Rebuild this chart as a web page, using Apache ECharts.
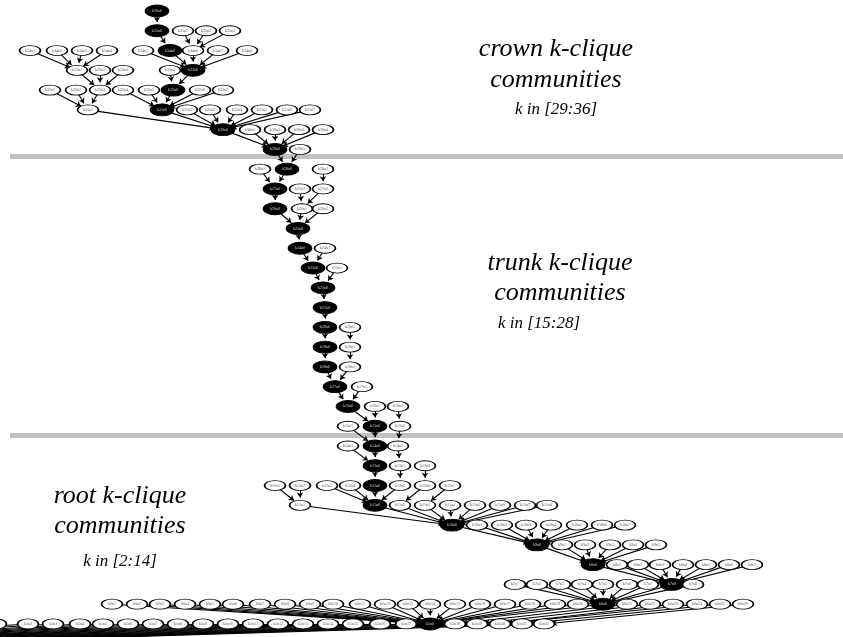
<!DOCTYPE html>
<html>
<head>
<meta charset="utf-8">
<script src="https://cdn.jsdelivr.net/npm/echarts@6/dist/echarts.min.js"></script>
<style>
html, body { margin: 0; padding: 0; background: #fff; }
#main { width: 843px; height: 637px; }
</style>
</head>
<body>
<div id="main"></div>
<script>
// clique size k of each level, from the crown down to the root
const levels = [36,35,34,33,32,31,30,29,28,27,26,25,24,23,22,21,20,19,18,17,16,15,14,13,12,11,10,9,8,7,6,5,3.5];

// horizontal place of each k-clique community on its level
const nodeX = [
  [157],
  [157,183,206,230],
  [30,57,82,107,143,170,193,218,247],
  [77,100,123,170,193],
  [50,76,100,123,149,173,200,223],
  [88,162,187,210,237,262,287,310],
  [223,250,275,299,323],
  [275,300],
  [260,287,323],
  [275,300,323],
  [275,302,323],
  [298],
  [300,325],
  [313,337],
  [323],
  [325],
  [325,350],
  [325,350],
  [325,350],
  [335,362],
  [348,375,398],
  [348,375,400],
  [348,375,398],
  [375,400,425],
  [275,300,327,350,375,400,425,450],
  [300,375,400,425,450,475,500,525,547],
  [452,477,502,526,551,577,602,625],
  [537,562,585,610,633,656],
  [593,617,638,660,683,706,729,752],
  [515,537,560,582,603,627,648,672,693],
  [112,137,160,185,210,233,260,285,310,333,360,385,408,430,455,480,505,530,555,578,603,627,650,673,697,720,743],
  [-4,28,53,80,103,128,153,178,203,228,253,278,303,328,353,380,406,430,455,477,500,522,544],
  [-420]
];

// index of the main-chain community on every level
const spine = [0,0,5,4,5,1,0,0,1,0,0,0,0,0,0,0,0,0,0,0,0,1,1,0,4,1,0,0,0,7,20,17,0];

// for each community: index of the community on the next level down that contains it
const parent = [
  [0],
  [5,6,6,6],
  [0,0,0,0,4,4,4,4,4],
  [2,2,2,5,5],
  [0,0,0,1,1,1,1,1],
  [0,0,0,0,0,0,0,0],
  [0,0,0,0,0],
  [1,1],
  [0,0,2],
  [0,1,1],
  [0,0,0],
  [0],
  [0,0],
  [0,0],
  [0],
  [0],
  [0,1],
  [0,1],
  [0,0],
  [0,0],
  [1,1,2],
  [1,1,2],
  [0,0,1],
  [4,5,6],
  [0,0,1,1,1,1,2,3],
  [0,0,0,0,0,0,0,0,0],
  [0,0,0,0,0,0,0,0],
  [0,0,0,0,0,0],
  [7,7,7,7,7,7,7,7],
  [20,20,20,20,20,20,20,20,20],
  [17,17,17,17,17,17,17,17,17,17,17,17,17,17,17,17,17,17,17,17,17,18,19,20,20,21,22],
  [0,0,0,0,0,0,0,0,0,0,0,0,0,0,0,0,0,0,0,0,0,0,0],
  []
];

// separators between crown / trunk / root, as k ranges
const bands = [[28.52, 28.77], [14.40, 14.66]];

// section captions
const captions = [
  { lines: ['crown k-clique', 'communities'], range: 'k in [29:36]' },
  { lines: ['trunk k-clique', 'communities'], range: 'k in [15:28]' },
  { lines: ['root k-clique', 'communities'], range: 'k in [2:14]' }
];

const ELLIPSE = 'path://M0 5A10 5 0 1 1 20 5A10 5 0 1 1 0 5Z';

// community names: k<k>n<i>, main chain gets n0
function nameOf(li, j) {
  const k = Math.floor(levels[li]);
  const s = spine[li];
  let n;
  if (j === s) n = 0;
  else n = j < s ? j + 1 : j;
  return 'k' + k + 'n' + n;
}

const nodes = [];
const links = [];
levels.forEach(function (k, li) {
  nodeX[li].forEach(function (x, j) {
    const main = j === spine[li];
    nodes.push({
      name: nameOf(li, j),
      value: [x, k],
      symbolSize: main ? [23, 12] : [21, 10],
      itemStyle: main
        ? { color: '#000', borderColor: '#000', borderWidth: 1.2 }
        : { color: '#fff', borderColor: '#000', borderWidth: 1.2 },
      label: { color: main ? '#d8d8d8' : '#555' }
    });
  });
});
levels.forEach(function (k, li) {
  parent[li].forEach(function (p, j) {
    links.push({ source: nameOf(li, j), target: nameOf(li + 1, p) });
  });
});

const font = '"Liberation Serif", "Times New Roman", serif';
const capPos = [
  { x: 556, y: [49, 80], ry: 110, rx: 556 },
  { x: 560, y: [263, 293], ry: 324, rx: 539 },
  { x: 120, y: [496, 526], ry: 562, rx: 120 }
];
const graphic = [];
captions.forEach(function (c, i) {
  const p = capPos[i];
  c.lines.forEach(function (t, m) {
    graphic.push({
      type: 'text', x: p.x, y: p.y[m], z: 10,
      style: { text: t, font: 'italic 26px ' + font, fill: '#000', align: 'center', verticalAlign: 'middle' }
    });
  });
  graphic.push({
    type: 'text', x: p.rx, y: p.ry, z: 10,
    style: { text: c.range, font: 'italic 17px ' + font, fill: '#000', align: 'center', verticalAlign: 'middle' }
  });
});

const chart = echarts.init(document.getElementById('main'));
chart.setOption({
  animation: false,
  backgroundColor: '#fff',
  grid: { left: 0, right: 0, top: 0, bottom: 0 },
  xAxis: { type: 'value', min: 0, max: 843, show: false },
  yAxis: { type: 'value', min: 4.34, max: 36.556, show: false },
  graphic: graphic,
  series: [
    {
      type: 'line',
      data: [],
      z: 1,
      markArea: {
        silent: true,
        itemStyle: { color: '#c0c0c0' },
        data: bands.map(function (b) {
          return [{ xAxis: 10, yAxis: b[0] }, { xAxis: 843, yAxis: b[1] }];
        })
      }
    },
    {
      type: 'graph',
      layout: 'none',
      coordinateSystem: 'cartesian2d',
      z: 3,
      symbol: ELLIPSE,
      edgeSymbol: ['none', 'arrow'],
      edgeSymbolSize: 5,
      data: nodes,
      links: links,
      label: {
        show: true,
        position: 'inside',
        formatter: '{b}',
        fontSize: 4,
        fontFamily: font
      },
      lineStyle: { color: '#000', width: 1.1, opacity: 1, curveness: 0 }
    }
  ]
});
</script>
</body>
</html>
